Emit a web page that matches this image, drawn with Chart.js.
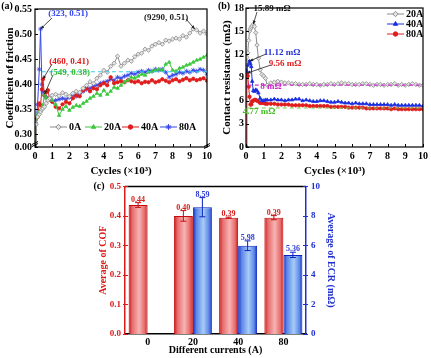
<!DOCTYPE html>
<html>
<head>
<meta charset="utf-8">
<script src="https://cdn.jsdelivr.net/npm/chart.js@4.4.0/dist/chart.umd.min.js"></script>
<style>
  body { margin: 0; background: #fff; width: 431px; height: 358px; position: relative; overflow: hidden; }
  canvas { position: absolute; }
</style>
</head>
<body>
<canvas id="chartA" width="215" height="180" style="left:0;top:0"></canvas>
<canvas id="chartB" width="216" height="180" style="left:215px;top:0"></canvas>
<canvas id="chartC" width="431" height="182" style="left:0;top:176px"></canvas>
<script>
// ---- (a) coefficient of friction vs cycles (x10^3) ----
const cyclesA = [0, 0.05, 0.15, 0.25, 0.323, 0.4, 0.46, 0.549, 0.65, 0.75, 0.85, 1.0,
  1.2, 1.4, 1.6, 1.8, 2.0, 2.2, 2.4, 2.6, 2.8, 3.0, 3.2, 3.4, 3.6, 3.8, 4.0, 4.2, 4.4, 4.6, 4.8, 5.0,
  5.2, 5.4, 5.6, 5.8, 6.0, 6.2, 6.4, 6.6, 6.8, 7.0, 7.2, 7.4, 7.6, 7.8, 8.0, 8.2, 8.4, 8.6, 8.8, 9.0,
  9.2, 9.4, 9.6, 9.8, 10.0];
const cof0A = [0, 0.32, 0.335, 0.34, 0.345, 0.35, 0.352, 0.355, 0.362, 0.368, 0.372, 0.378,
  0.380, 0.377, 0.383, 0.380, 0.376, 0.382, 0.386, 0.384, 0.392, 0.398,
  0.405, 0.402, 0.412, 0.418, 0.428, 0.424, 0.436, 0.442, 0.456, 0.436,
  0.442, 0.448, 0.446, 0.455, 0.460, 0.462, 0.470, 0.468, 0.476, 0.480,
  0.483, 0.480, 0.488, 0.486, 0.490, 0.492, 0.490, 0.497, 0.494, 0.502,
  0.510, 0.508, 0.502, 0.506, 0.500];
const cof20A = [0, 0.325, 0.34, 0.345, 0.348, 0.352, 0.358, 0.38, 0.372, 0.368, 0.372, 0.368,
  0.360, 0.338, 0.350, 0.356, 0.348, 0.354, 0.358, 0.356, 0.362, 0.366,
  0.372, 0.376, 0.382, 0.378, 0.388, 0.380, 0.386, 0.394, 0.392, 0.398,
  0.404, 0.408, 0.414, 0.412, 0.416, 0.420, 0.418, 0.424, 0.426, 0.428,
  0.430, 0.428, 0.440, 0.444, 0.428, 0.426, 0.432, 0.434, 0.438, 0.440,
  0.444, 0.448, 0.450, 0.454, 0.458];
const cof40A = [0, 0.33, 0.335, 0.362, 0.358, 0.39, 0.41, 0.378, 0.384, 0.388, 0.372, 0.365,
  0.355, 0.352, 0.360, 0.365, 0.362, 0.372, 0.378, 0.376, 0.388, 0.392,
  0.386, 0.392, 0.390, 0.398, 0.402, 0.398, 0.414, 0.402, 0.404, 0.406,
  0.404, 0.408, 0.406, 0.404, 0.406, 0.402, 0.405, 0.404, 0.408, 0.404,
  0.406, 0.410, 0.407, 0.404, 0.408, 0.410, 0.406, 0.409, 0.412, 0.408,
  0.411, 0.408, 0.410, 0.412, 0.407];
const cof80A = [0, 0.32, 0.36, 0.43, 0.51, 0.40, 0.385, 0.378, 0.374, 0.372, 0.370, 0.366,
  0.368, 0.370, 0.372, 0.370, 0.374, 0.378, 0.376, 0.382, 0.386, 0.390,
  0.392, 0.396, 0.398, 0.402, 0.404, 0.406, 0.410, 0.408, 0.414, 0.412,
  0.416, 0.418, 0.422, 0.420, 0.424, 0.426, 0.424, 0.428, 0.426, 0.430,
  0.428, 0.430, 0.424, 0.414, 0.418, 0.420, 0.424, 0.422, 0.426, 0.424,
  0.428, 0.426, 0.430, 0.428, 0.420];
const cofTicks = [0.275, 0.30, 0.35, 0.40, 0.45, 0.50, 0.55];
const cofTickLabels = ['0.00', '0.30', '0.35', '0.40', '0.45', '0.50', '0.55'];
const cofMeanLine = 0.425;

// ---- (b) contact resistance vs cycles (x10^3) ----
const cyclesB = [0, 0.05, 0.1, 0.15, 0.2, 0.25, 0.3, 0.35, 0.41, 0.48, 0.55, 0.62, 0.7, 0.8, 0.9, 1.0, 1.1, 1.2,
  1.4, 1.6, 1.8, 2.0, 2.2, 2.4, 2.6, 2.8, 3.0, 3.2, 3.4, 3.6, 3.8, 4.0, 4.2, 4.4, 4.6, 4.8, 5.0, 5.2,
  5.4, 5.6, 5.8, 6.0, 6.2, 6.4, 6.6, 6.8, 7.0, 7.2, 7.4, 7.6, 7.8, 8.0, 8.2, 8.4, 8.6, 8.8, 9.0, 9.2,
  9.4, 9.6, 9.8, 10.0];
const ecr20A = [11.0, 11.6, 12.2, 13.8, 15.0, 15.3, 15.5, 15.7, 15.89, 15.6, 14.8, 13.2, 11.5, 10.0, 9.4, 9.2, 8.9, 8.0,
  8.3, 8.4, 8.5, 8.4, 8.3, 8.3, 8.2, 8.2, 8.1, 8.1, 8.1, 8.2, 8.1, 8.1, 8.0,
  8.1, 8.1, 8.2, 8.1, 8.2, 8.3, 8.2, 8.2, 8.1, 8.1, 8.1, 8.2, 8.2, 8.1, 8.0,
  8.1, 8.1, 8.0, 8.1, 8.1, 8.2, 8.0, 8.1, 8.0, 8.1, 8.2, 8.1, 8.0, 8.0];
const ecr40A = [10.0, 9.8, 10.6, 11.0, 11.12, 10.8, 10.4, 8.5, 7.3, 7.2, 7.4, 7.3, 7.0, 6.3, 6.0, 6.0, 6.1, 6.1,
  6.1, 6.2, 6.1, 6.1, 6.0, 6.1, 6.1, 6.2, 6.2, 6.0, 6.1, 6.0, 5.9, 5.9, 6.0,
  6.0, 5.9, 5.8, 5.8, 5.9, 5.8, 5.7, 5.7, 5.6, 5.7, 5.6, 5.6, 5.6, 5.5, 5.5,
  5.5, 5.5, 5.5, 5.5, 5.4, 5.5, 5.4, 5.4, 5.4, 5.4, 5.4, 5.4, 5.4, 5.3];
const ecr80A = [0, 9.56, 9.2, 7.8, 6.5, 5.5, 5.5, 5.9, 6.0, 6.1, 6.1, 6.0, 5.9, 5.7, 5.7, 5.7, 5.6, 5.6,
  5.6, 5.6, 5.5, 5.5, 5.5, 5.5, 5.4, 5.4, 5.4, 5.4, 5.4, 5.3, 5.3, 5.3, 5.3,
  5.3, 5.3, 5.2, 5.2, 5.2, 5.2, 5.2, 5.1, 5.1, 5.1, 5.1, 5.1, 5.0, 5.0, 5.0,
  5.0, 5.0, 5.0, 5.0, 4.9, 5.0, 4.9, 4.9, 4.9, 4.9, 4.9, 4.9, 4.9, 4.9];
const ecrRefHigh = 8;
const ecrRefLow = 5.05;

// ---- (c) averages ----
const currents = ['0', '20', '40', '80'];
const cofAvg = [0.437, 0.400, 0.394, 0.394];
const cofErr = [0.008, 0.018, 0.002, 0.007];
const ecrAvg = [null, 8.59, 5.98, 5.36];
const ecrErr = [null, 0.65, 0.33, 0.18];

Chart.defaults.font.family = "'Liberation Serif', 'Times New Roman', serif";
Chart.defaults.font.weight = 'bold';
Chart.defaults.color = '#000';
Chart.defaults.animation = false;
Chart.defaults.plugins.legend.display = false;
Chart.defaults.plugins.tooltip.enabled = false;

function arrow(ctx, x1, y1, x2, y2, color) {
  ctx.strokeStyle = color; ctx.fillStyle = color; ctx.lineWidth = 0.8;
  ctx.beginPath(); ctx.moveTo(x1, y1); ctx.lineTo(x2, y2); ctx.stroke();
  const a = Math.atan2(y2 - y1, x2 - x1), h = 4;
  ctx.beginPath(); ctx.moveTo(x2, y2);
  ctx.lineTo(x2 - h * Math.cos(a - 0.4), y2 - h * Math.sin(a - 0.4));
  ctx.lineTo(x2 - h * Math.cos(a + 0.4), y2 - h * Math.sin(a + 0.4));
  ctx.closePath(); ctx.fill();
}

function label(ctx, text, x, y, color, size, align) {
  ctx.fillStyle = color;
  ctx.font = 'bold ' + size + "px 'Liberation Serif', serif";
  ctx.textAlign = align || 'center';
  ctx.textBaseline = 'middle';
  ctx.fillText(text, x, y);
}

function legendItem(ctx, ds, x, y, text) {
  ctx.strokeStyle = ds.borderColor; ctx.lineWidth = 1;
  ctx.beginPath(); ctx.moveTo(x, y); ctx.lineTo(x + 17, y); ctx.stroke();
  ctx.fillStyle = ds.pointBackgroundColor; ctx.strokeStyle = ds.pointBorderColor;
  Chart.helpers.drawPoint(ctx, { pointStyle: ds.pointStyle, radius: ds.pointRadius + 0.5, rotation: 0, borderWidth: 1 }, x + 8.5, y);
  label(ctx, text, x + 19, y, '#000', 10, 'left');
}

// box round the plot with small inward ticks
const frame = {
  id: 'frame',
  afterDatasetsDraw(chart) {
    const { ctx, chartArea: a } = chart;
    ctx.save();
    ctx.strokeStyle = '#000'; ctx.lineWidth = 1.2;
    ctx.strokeRect(a.left, a.top, a.right - a.left, a.bottom - a.top);
    ctx.lineWidth = 1;
    ['x', 'y'].forEach(id => {
      const s = chart.scales[id];
      s.ticks.forEach(t => {
        const p = Math.round(s.getPixelForValue(t.value)) + 0.5;
        ctx.beginPath();
        if (id === 'x') { ctx.moveTo(p, a.bottom); ctx.lineTo(p, a.bottom - 3); }
        else { ctx.moveTo(a.left, p); ctx.lineTo(a.left + 3, p); }
        ctx.stroke();
      });
    });
    ctx.restore();
  }
};

function lineDataset(xs, ys, name, color, fill, style, r) {
  return {
    label: name,
    data: xs.map((c, i) => ({ x: c, y: ys[i] })),
    borderColor: color, backgroundColor: fill,
    pointBorderColor: color, pointBackgroundColor: fill,
    pointStyle: style, pointRadius: r, pointBorderWidth: 0.8,
    borderWidth: 1, tension: 0
  };
}

function axisX(titleText) {
  return {
    type: 'linear', min: 0, max: 10,
    ticks: { stepSize: 1, font: { size: 10 }, padding: 3 },
    grid: { display: false, drawTicks: false }, border: { display: false },
    title: { display: true, text: titleText, font: { size: 11 }, padding: { top: 4, bottom: 2 } },
    afterFit: s => { s.height = 33; }
  };
}

// ====== (a) ======
const annoA = {
  id: 'annoA',
  afterDatasetsDraw(chart) {
    const { ctx, chartArea: a, scales: { x, y } } = chart;
    ctx.save();
    // mean line
    ctx.strokeStyle = '#33ccee'; ctx.lineWidth = 1.2; ctx.setLineDash([4, 3]);
    ctx.beginPath();
    ctx.moveTo(x.getPixelForValue(0.4), y.getPixelForValue(cofMeanLine));
    ctx.lineTo(a.right, y.getPixelForValue(cofMeanLine));
    ctx.stroke(); ctx.setLineDash([]);
    const notes = [
      { t: '(323, 0.51)', c: '#3344ee', tx: 68, ty: 14, fx: 52, fy: 18, px: 0.323, py: 0.51 },
      { t: '(460, 0.41)', c: '#dd1a1a', tx: 69, ty: 62, fx: 52, fy: 64, px: 0.46, py: 0.41 },
      { t: '(549, 0.38)', c: '#33bb33', tx: 70, ty: 73, fx: 53, fy: 75, px: 0.549, py: 0.38 },
      { t: '(9290, 0.51)', c: '#222', tx: 166, ty: 18, fx: 186, fy: 19, px: 9.29, py: 0.51 }
    ];
    notes.forEach(n => {
      arrow(ctx, n.fx, n.fy, x.getPixelForValue(n.px), y.getPixelForValue(n.py), '#222');
      label(ctx, n.t, n.tx, n.ty, n.c, 9);
    });
    const ds = chart.data.datasets;
    legendItem(ctx, ds[0], 50, 127, '0A');
    legendItem(ctx, ds[1], 85, 127, '20A');
    legendItem(ctx, ds[2], 122, 127, '40A');
    legendItem(ctx, ds[3], 160, 127, '80A');
    // axis breaks
    ctx.strokeStyle = '#000'; ctx.lineWidth = 1;
    [[a.left, a.bottom - 4], [a.right, a.bottom - 2]].forEach(([bx, by]) => {
      ctx.beginPath();
      ctx.moveTo(bx - 3, by + 1.5); ctx.lineTo(bx + 3, by - 1.5);
      ctx.moveTo(bx - 3, by + 3.5); ctx.lineTo(bx + 3, by + 0.5);
      ctx.stroke();
    });
    label(ctx, '(a)', 7, 6, '#000', 10);
    ctx.restore();
  }
};

new Chart(document.getElementById('chartA'), {
  type: 'line',
  data: {
    datasets: [
      lineDataset(cyclesA, cof0A, '0A', '#8c8c8c', '#e4e4e4', 'rectRot', 2.2),
      lineDataset(cyclesA, cof20A, '20A', '#3cc83c', '#3cc83c', 'triangle', 2),
      lineDataset(cyclesA, cof40A, '40A', '#e01c1c', '#e01c1c', 'circle', 1.7),
      lineDataset(cyclesA, cof80A, '80A', '#3444e6', '#9aa4ff', 'star', 2.4)
    ]
  },
  options: {
    responsive: false,
    layout: { padding: { top: 4, right: 3 } },
    scales: {
      x: axisX('Cycles (×10³)'),
      y: {
        min: 0.275, max: 0.55,
        afterBuildTicks: s => { s.ticks = cofTicks.map(v => ({ value: v })); },
        ticks: { font: { size: 10 }, padding: 3, callback: (v, i) => cofTickLabels[i] },
        grid: { display: false, drawTicks: false }, border: { display: false },
        title: { display: true, text: 'Coefficient of friction', font: { size: 11 } },
        afterFit: s => { s.width = 35; }
      }
    }
  },
  plugins: [frame, annoA]
});

// ====== (b) ======
const annoB = {
  id: 'annoB',
  afterDatasetsDraw(chart) {
    const { ctx, chartArea: a, scales: { x, y } } = chart;
    ctx.save();
    ctx.lineWidth = 1.2; ctx.setLineDash([4, 3]);
    [[ecrRefHigh, '#cc33cc'], [ecrRefLow, '#77cc44']].forEach(([v, c]) => {
      ctx.strokeStyle = c;
      ctx.beginPath();
      ctx.moveTo(x.getPixelForValue(0.1), y.getPixelForValue(v));
      ctx.lineTo(a.right, y.getPixelForValue(v));
      ctx.stroke();
    });
    ctx.setLineDash([]);
    const notes = [
      { t: '15.89 mΩ', c: '#111', tx: 57, ty: 9, fx: 42, fy: 12, px: 0.41, py: 15.89 },
      { t: '11.12 mΩ', c: '#2030d8', tx: 67, ty: 53, fx: 51, fy: 54, px: 0.2, py: 11.12 },
      { t: '9.56 mΩ', c: '#dd2020', tx: 70, ty: 64, fx: 56, fy: 65, px: 0.05, py: 9.56 }
    ];
    notes.forEach(n => {
      arrow(ctx, n.fx, n.fy, x.getPixelForValue(n.px), y.getPixelForValue(n.py), '#222');
      label(ctx, n.t, n.tx, n.ty, n.c, 9);
    });
    label(ctx, '8 mΩ', 56, 87, '#cc22cc', 9);
    label(ctx, '4.77 mΩ', 44, 112, '#44bb22', 9);
    const ds = chart.data.datasets;
    legendItem(ctx, ds[0], 172, 14, '20A');
    legendItem(ctx, ds[1], 172, 24, '40A');
    legendItem(ctx, ds[2], 172, 34, '80A');
    label(ctx, '(b)', 9, 6, '#000', 10);
    ctx.restore();
  }
};

new Chart(document.getElementById('chartB'), {
  type: 'line',
  data: {
    datasets: [
      lineDataset(cyclesB, ecr20A, '20A', '#8c8c8c', '#e4e4e4', 'rectRot', 2.2),
      lineDataset(cyclesB, ecr40A, '40A', '#1a2ee0', '#1a2ee0', 'triangle', 2),
      lineDataset(cyclesB, ecr80A, '80A', '#e01c1c', '#e01c1c', 'circle', 1.7)
    ]
  },
  options: {
    responsive: false,
    layout: { padding: { top: 5, right: 7, left: 2 } },
    scales: {
      x: axisX('Cycles (×10³)'),
      y: {
        min: 0, max: 18,
        ticks: { stepSize: 3, font: { size: 10 }, padding: 2 },
        grid: { display: false, drawTicks: false }, border: { display: false },
        title: { display: true, text: 'Contact resistance (mΩ)', font: { size: 11 } },
        afterFit: s => { s.width = 29; }
      }
    }
  },
  plugins: [frame, annoB]
});

// ====== (c) ======
const barLook = {
  id: 'barLook',
  beforeDatasetsDraw(chart) {
    const ctx = chart.ctx;
    chart.data.datasets.forEach((ds, di) => {
      chart.getDatasetMeta(di).data.forEach(el => {
        if (!el.width) return;
        const g = ctx.createLinearGradient(el.x - el.width / 2, 0, el.x + el.width / 2, 0);
        g.addColorStop(0, ds.dark);
        g.addColorStop(0.18, ds.mid);
        g.addColorStop(0.55, ds.light);
        g.addColorStop(0.85, ds.mid);
        g.addColorStop(1, ds.dark);
        el.options = Object.assign({}, el.options, { backgroundColor: g });
      });
    });
  },
  afterDatasetsDraw(chart) {
    const { ctx, chartArea: a } = chart;
    ctx.save();
    chart.data.datasets.forEach((ds, di) => {
      const s = chart.scales[ds.yAxisID];
      chart.getDatasetMeta(di).data.forEach((el, i) => {
        const v = ds.data[i];
        if (v == null) return;
        const top = s.getPixelForValue(v + ds.errs[i]);
        const bot = s.getPixelForValue(v - ds.errs[i]);
        ctx.strokeStyle = ds.dark; ctx.lineWidth = 1;
        ctx.beginPath();
        ctx.moveTo(el.x, top); ctx.lineTo(el.x, bot);
        ctx.moveTo(el.x - 3, top); ctx.lineTo(el.x + 3, top);
        ctx.moveTo(el.x - 3, bot); ctx.lineTo(el.x + 3, bot);
        ctx.stroke();
        ctx.fillStyle = ds.text;
        ctx.font = "bold 8px 'Liberation Serif', serif";
        ctx.textAlign = 'center'; ctx.textBaseline = 'bottom';
        ctx.fillText(v.toFixed(2), el.x, top + 1);
      });
    });
    // top frame line and inward ticks
    ctx.strokeStyle = '#000'; ctx.lineWidth = 1.5;
    ctx.beginPath(); ctx.moveTo(a.left, a.top); ctx.lineTo(a.right, a.top); ctx.stroke();
    ctx.lineWidth = 1;
    [['y', '#dd1a1a', 1], ['y2', '#2030d0', -1]].forEach(([id, c, dir]) => {
      const s = chart.scales[id];
      const x0 = dir > 0 ? a.left : a.right;
      ctx.strokeStyle = c;
      s.ticks.forEach(t => {
        const p = Math.round(s.getPixelForValue(t.value)) + 0.5;
        ctx.beginPath(); ctx.moveTo(x0 - 2 * dir, p); ctx.lineTo(x0 + 3 * dir, p); ctx.stroke();
      });
    });
    label(ctx, '(c)', 99, 10, '#000', 10);
    ctx.restore();
  }
};

new Chart(document.getElementById('chartC'), {
  type: 'bar',
  data: {
    labels: currents,
    datasets: [
      { label: 'COF', data: cofAvg, errs: cofErr, yAxisID: 'y',
        dark: '#c40c0c', mid: '#e66a6a', light: '#f7b4b4', text: '#d42020',
        borderColor: '#c40c0c', borderWidth: 1, categoryPercentage: 0.84, barPercentage: 1 },
      { label: 'ECR', data: ecrAvg, errs: ecrErr, yAxisID: 'y2',
        dark: '#0c22c0', mid: '#5a86e6', light: '#a8ccf8', text: '#2a3ad8',
        borderColor: '#0c22c0', borderWidth: 1, categoryPercentage: 0.84, barPercentage: 1 }
    ]
  },
  options: {
    responsive: false,
    layout: { padding: { top: 9, left: 93, right: 90 } },
    scales: {
      x: {
        ticks: { font: { size: 10 }, padding: 2 },
        grid: { display: false, drawTicks: false }, border: { display: true, color: '#000', width: 1.5 },
        title: { display: true, text: 'Different currents (A)', font: { size: 10 }, padding: { top: 1, bottom: 2 } },
        afterFit: s => { s.height = 24; }
      },
      y: {
        position: 'left', min: 0, max: 0.5,
        ticks: { stepSize: 0.1, font: { size: 9 }, color: '#dd1a1a', padding: 4, callback: v => v.toFixed(1) },
        grid: { display: false, drawTicks: false }, border: { display: true, color: '#dd1a1a', width: 1.5 },
        title: { display: true, text: 'Average of COF', color: '#dd1a1a', font: { size: 10 } },
        afterFit: s => { s.width = 32; }
      },
      y2: {
        position: 'right', min: 0, max: 10,
        ticks: { stepSize: 2, font: { size: 9 }, color: '#2030d0', padding: 5 },
        grid: { display: false, drawTicks: false }, border: { display: true, color: '#2030d0', width: 1.5 },
        title: { display: true, text: 'Average of ECR (mΩ)', color: '#2030d0', font: { size: 10 } },
        afterFit: s => { s.width = 35; }
      }
    }
  },
  plugins: [barLook]
});
</script>
</body>
</html>
